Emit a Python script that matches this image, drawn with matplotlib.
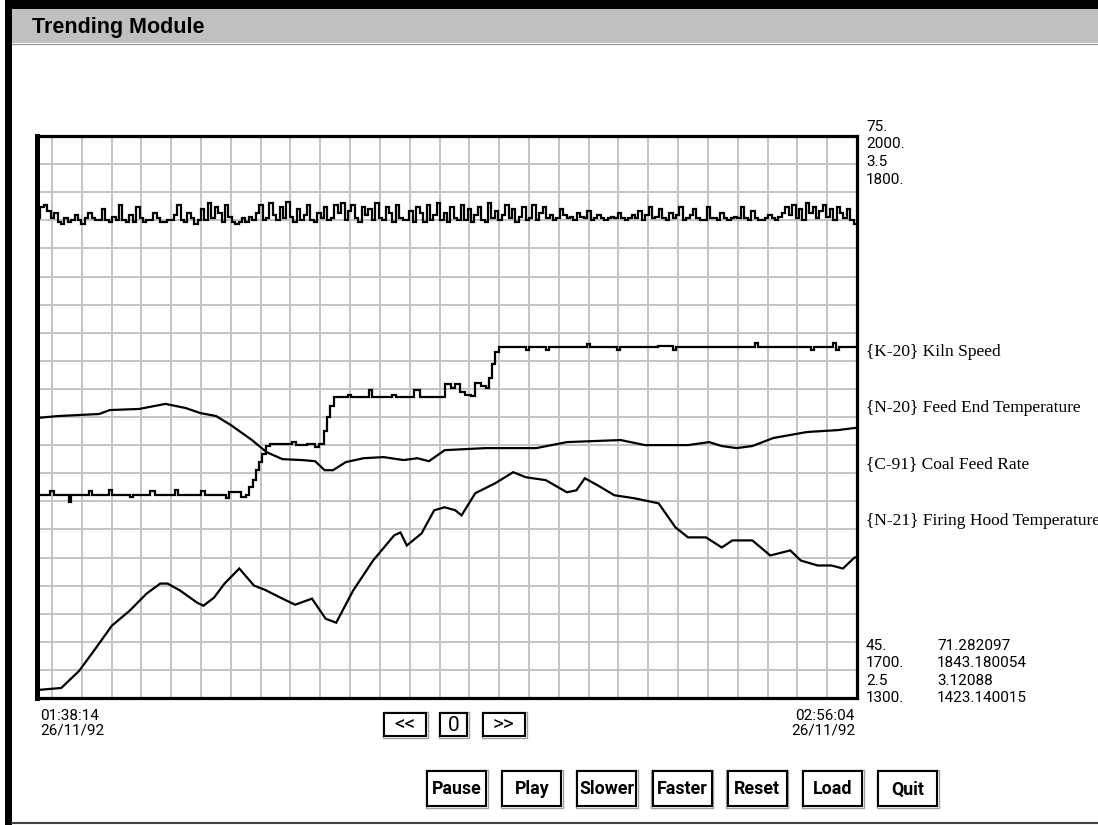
import numpy as np
import matplotlib
matplotlib.use("Agg")
import matplotlib.pyplot as plt
from matplotlib.patches import Rectangle

# ---- data -------------------------------------------------------------
start_label = "01:38:14\n26/11/92"
end_label = "02:56:04\n26/11/92"
span_min = 77 + 50 / 60.0          # 01:38:14 -> 02:56:04, minutes

series_names = ["{K-20} Kiln Speed", "{N-20} Feed End Temperature",
                "{C-91} Coal Feed Rate", "{N-21} Firing Hood Temperature"]
range_max = ["75.", "2000.", "3.5", "1800."]
range_min = ["45.", "1700.", "2.5", "1300."]
current_vals = ["71.282097", "1843.180054", "3.12088", "1423.140015"]
limits = [(45, 75), (1700, 2000), (2.5, 3.5), (1300, 1800)]

# K-20 kiln speed, evenly sampled over the window
kiln_speed = [
    70.6, 71.2, 71.3, 71.0, 70.6, 70.9, 70.4, 70.3, 70.6, 70.4, 70.5, 70.8, 70.5, 70.3, 70.6, 70.9, 70.6, 70.5, 70.5, 71.1, 70.5, 70.4, 70.7, 70.5,
    71.3, 70.5, 70.4, 70.8, 70.4, 71.2, 70.6, 70.4, 70.5, 70.5, 70.9, 70.6, 70.4, 70.4, 70.5, 70.5, 70.8, 71.3, 70.5, 70.4, 70.9, 70.6, 70.3, 70.5,
    71.1, 70.5, 71.4, 70.6, 71.2, 70.9, 70.4, 71.3, 70.7, 70.4, 70.3, 70.4, 70.6, 70.4, 70.7, 70.5, 70.9, 71.3, 70.5, 70.6, 71.4, 70.8, 70.5, 71.2,
    70.6, 71.5, 70.7, 70.4, 71.1, 70.5, 70.8, 71.3, 70.5, 70.4, 70.9, 70.6, 71.2, 70.5, 70.6, 71.3, 70.9, 71.4, 70.5, 71.0, 71.3, 70.6, 70.4, 71.2,
    70.8, 71.1, 70.5, 71.4, 70.6, 70.5, 71.2, 70.9, 70.4, 71.3, 70.6, 70.5, 70.5, 71.0, 70.4, 71.2, 70.9, 70.4, 71.3, 70.5, 70.8, 71.4, 70.5, 70.9,
    70.4, 71.2, 70.6, 70.5, 71.3, 70.5, 71.1, 70.4, 70.8, 71.2, 70.5, 70.4, 71.4, 70.6, 71.0, 70.5, 70.8, 71.3, 70.6, 71.1, 70.4, 70.7, 71.2, 70.5,
    70.6, 71.3, 70.5, 70.9, 71.2, 70.6, 70.8, 70.5, 70.6, 71.1, 70.8, 70.6, 70.7, 70.5, 70.9, 70.7, 70.6, 71.0, 70.5, 70.6, 70.8, 70.6, 70.5, 70.6,
    70.7, 70.6, 70.9, 70.6, 70.5, 70.6, 70.8, 70.6, 71.0, 70.5, 70.8, 71.2, 70.6, 70.7, 71.1, 70.6, 70.5, 70.9, 70.6, 70.8, 71.2, 70.5, 70.6, 70.8,
    71.1, 70.6, 70.5, 70.5, 71.2, 70.6, 70.6, 70.5, 70.9, 70.6, 70.5, 70.6, 70.7, 70.6, 71.2, 70.6, 70.5, 71.0, 70.6, 70.5, 70.5, 70.6, 70.8, 70.6,
    70.5, 70.7, 70.9, 71.2, 70.8, 71.3, 70.6, 71.1, 70.5, 71.4, 70.9, 71.2, 70.6, 71.0, 71.3, 70.7, 71.1, 70.5, 71.2, 70.9, 70.6, 71.1, 70.5, 70.3,
]

# N-20 feed end temperature (minutes, value)
feed_t = [0.0, 2.0, 5.9, 6.9, 9.7, 12.2, 14.1, 15.5, 17.0, 18.4, 20.4, 21.8, 23.3, 25.2, 26.4,
          27.3, 28.1, 29.3, 31.0, 32.9, 34.8, 36.1, 37.2, 38.7, 42.6, 47.4, 50.3, 55.4, 57.7,
          61.8, 63.8, 65.0, 66.4, 67.9, 69.9, 73.1, 76.0, 78.83]
feed_v = [1849.5, 1850.5, 1851.6, 1853.7, 1854.3, 1857.0, 1854.8, 1852.1, 1850.5, 1845.7, 1837.7,
          1831.2, 1827.5, 1827.0, 1826.4, 1821.6, 1821.6, 1825.9, 1828.0, 1828.6, 1827.0, 1828.0,
          1826.4, 1832.3, 1833.4, 1833.4, 1836.6, 1837.7, 1835.0, 1835.0, 1836.6, 1834.5, 1833.4,
          1834.5, 1838.8, 1842.0, 1843.0, 1845.0]

# C-91 coal feed rate (minutes, value), held between samples
coal_t = [0.0, 1.25, 1.64, 2.99, 3.18, 4.92, 5.21, 6.85, 7.14, 8.78, 9.07, 10.71, 11.19, 13.12,
          13.41, 15.53, 15.92, 17.95, 18.24, 19.40, 19.88, 20.17, 20.46, 20.75, 21.03, 21.32,
          21.71, 22.10, 24.22, 24.60, 25.67, 26.34, 26.73, 27.21, 27.50, 27.79, 28.17, 29.53,
          29.82, 31.55, 31.84, 33.67, 34.06, 35.80, 36.38, 38.69, 39.27, 39.66, 40.14, 40.62,
          41.20, 41.59, 42.16, 42.65, 42.94, 43.23, 43.52, 43.81, 46.41, 46.70, 48.34, 48.63,
          52.20, 52.49, 55.09, 55.38, 58.95, 60.40, 60.69, 68.12, 68.41, 73.43, 73.72, 75.55,
          75.84, 76.13, 78.83]
coal_v = [2.862, 2.868, 2.862, 2.848, 2.862, 2.868, 2.862, 2.870, 2.862, 2.858, 2.862, 2.868,
          2.862, 2.870, 2.862, 2.868, 2.862, 2.855, 2.866, 2.858, 2.862, 2.875, 2.888, 2.905,
          2.920, 2.935, 2.948, 2.952, 2.955, 2.950, 2.952, 2.946, 2.952, 2.975, 3.000, 3.020,
          3.036, 3.040, 3.036, 3.048, 3.036, 3.040, 3.036, 3.048, 3.036, 3.058, 3.052, 3.058,
          3.045, 3.040, 3.038, 3.061, 3.055, 3.052, 3.070, 3.095, 3.115, 3.125, 3.120, 3.125,
          3.120, 3.125, 3.130, 3.125, 3.120, 3.125, 3.127, 3.120, 3.125, 3.131, 3.125, 3.120,
          3.125, 3.131, 3.120, 3.125, 3.125]

# N-21 firing hood temperature (minutes, value)
hood_t = [0.0, 2.3, 4.0, 5.6, 7.1, 8.8, 10.4, 11.7, 12.4, 13.6, 15.2, 15.8, 16.8, 17.8, 19.2,
          20.6, 21.6, 23.3, 24.5, 26.1, 27.4, 28.4, 30.0, 31.9, 33.9, 34.5, 35.1, 36.5, 37.7,
          38.7, 39.7, 40.3, 41.6, 43.5, 45.2, 46.4, 48.3, 50.3, 51.2, 52.0, 53.2, 54.8, 56.7,
          59.0, 60.6, 61.8, 63.5, 65.0, 66.0, 67.9, 69.6, 71.5, 72.5, 74.1, 75.4, 76.5, 77.6, 78.83]
hood_v = [1307.1, 1308.9, 1324.1, 1344.6, 1364.3, 1377.7, 1392.9, 1401.8, 1401.8, 1395.5,
          1384.8, 1382.1, 1389.3, 1401.8, 1415.2, 1400.0, 1396.4, 1388.4, 1383.0, 1388.4,
          1370.5, 1367.0, 1395.5, 1422.3, 1444.7, 1447.3, 1435.7, 1446.4, 1467.0, 1469.7,
          1467.0, 1462.5, 1482.2, 1491.1, 1500.9, 1496.4, 1493.8, 1483.0, 1484.8, 1495.5,
          1489.3, 1480.4, 1477.7, 1473.2, 1451.8, 1442.9, 1442.9, 1433.9, 1440.2, 1440.2,
          1426.8, 1431.3, 1422.3, 1417.9, 1417.9, 1415.2, 1425.0, 1425.9]

buttons = ["Pause", "Play", "Slower", "Faster", "Reset", "Load", "Quit"]
nav_buttons = ["<<", "0", ">>"]

# ---- figure -----------------------------------------------------------
W, H = 1098, 825
fig = plt.figure(figsize=(W / 100, H / 100), dpi=100)
fig.patch.set_facecolor("white")

narrow = ["Roboto", "DejaVu Sans"]
serif = ["Liberation Serif", "DejaVu Serif"]

# pixel-space canvas for the window chrome
bg = fig.add_axes([0, 0, 1, 1])
bg.set_xlim(0, W)
bg.set_ylim(H, 0)
bg.axis("off")

bg.add_patch(Rectangle((5, 0), W, 9, color="black", lw=0))
bg.add_patch(Rectangle((5, 0), 7, H, color="black", lw=0))
bg.add_patch(Rectangle((12, 9), W, 34, color="#c0c0c0", lw=0))
bg.plot([12, W], [43.5, 43.5], color="#909090", lw=0.8)
bg.plot([12, W], [823, 823], color="#404040", lw=1.5)
bg.text(32, 27, "Trending Module", fontsize=15.5, fontweight="bold",
        family=["Liberation Sans", "DejaVu Sans"], va="center", ha="left")


def button(x0, x1, y0, y1, label, size, bold=True):
    bg.add_patch(Rectangle((x0 - 1.5, y0 - 1.5), x1 - x0 + 3, y1 - y0 + 3,
                           fill=False, ec="#a0a0a0", lw=1.0))
    bg.add_patch(Rectangle((x0, y0), x1 - x0, y1 - y0, fill=True, fc="white",
                           ec="black", lw=1.5))
    bg.text((x0 + x1) / 2, (y0 + y1) / 2 + 1, label, fontsize=size,
            fontweight="bold" if bold else "normal", family=narrow,
            ha="center", va="center")


for i, name in enumerate(buttons):
    x0 = 427 + i * 75.2
    button(x0, x0 + 59, 771, 806, name, 12.8)

for (x0, x1), name in zip([(384, 426), (440, 467), (483, 525)], nav_buttons):
    button(x0, x1, 713, 736, name, 15, bold=False)

# time stamps
bg.text(40, 723.5, start_label, fontsize=11, family=narrow, ha="left",
        va="center", linespacing=1.0)
bg.text(855, 723.5, end_label, fontsize=11, family=narrow, ha="right",
        va="center", linespacing=1.0)

# scale labels and legend
for i in range(4):
    bg.text(866, 127 + i * 17.5, range_max[i], fontsize=11, family=narrow,
            va="center", ha="left")
    bg.text(866, 646 + i * 17.4, range_min[i], fontsize=11, family=narrow,
            va="center", ha="left")
    bg.text(937, 646 + i * 17.4, current_vals[i], fontsize=11, family=narrow,
            va="center", ha="left")
    bg.text(866, 352 + i * 56.3, series_names[i], fontsize=12.5, family=serif,
            va="center", ha="left")

# ---- trend plot -------------------------------------------------------
ax = fig.add_axes([37 / W, 1 - 698 / H, (857 - 37) / W, (698 - 136) / H])
ax.set_xlim(0, span_min)
ax.set_ylim(*limits[0])
ax.set_yticks(np.linspace(limits[0][0], limits[0][1], 21))
dt = span_min / 27.5
ax.set_xticks([span_min - k * dt for k in range(1, 28)])
ax.grid(True, color="#c4c4c4", lw=1.4)
ax.set_axisbelow(True)
ax.tick_params(length=0, labelleft=False, labelbottom=False)
for side, sp in ax.spines.items():
    sp.set_linewidth(3.6 if side == "left" else 2.3)
    sp.set_color("black")
    sp.set_zorder(5)

line_kw = dict(color="black", lw=1.6, solid_joinstyle="miter")

kt = np.linspace(0, span_min, len(kiln_speed) + 1)
ax.plot(kt, kiln_speed + [kiln_speed[-1]], drawstyle="steps-post", **line_kw)

for lim, (tt, vv, style) in zip(limits[1:], [(feed_t, feed_v, "default"),
                                             (coal_t, coal_v, "steps-post"),
                                             (hood_t, hood_v, "default")]):
    tw = ax.twinx()
    tw.set_ylim(*lim)
    tw.set_xlim(0, span_min)
    tw.axis("off")
    tw.plot(tt, vv, drawstyle=style, **line_kw)

fig.savefig("out.png", dpi=100)
